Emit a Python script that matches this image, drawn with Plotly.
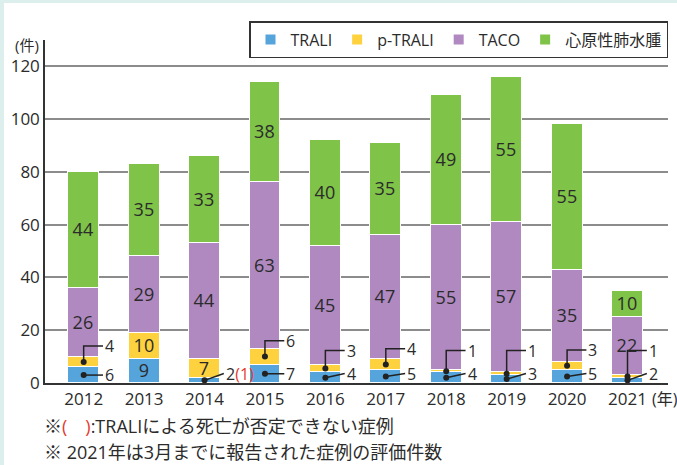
import plotly.graph_objects as go

years = [2012, 2013, 2014, 2015, 2016, 2017, 2018, 2019, 2020, 2021]
trali = [6, 9, 2, 7, 4, 5, 4, 3, 5, 2]
p_trali = [4, 10, 7, 6, 3, 4, 1, 1, 3, 1]
taco = [26, 29, 44, 63, 45, 47, 55, 57, 35, 22]
cardio = [44, 35, 33, 38, 40, 35, 49, 55, 55, 10]
trali_death = [None, None, 1, None, None, None, None, None, None, None]
# whether the small segment value is printed inside the bar (else a callout)
trali_inside = [False, True, False, False, False, False, False, False, False, False]
ptrali_inside = [False, True, True, False, False, False, False, False, False, False]

names = ["TRALI", "p-TRALI", "TACO", "心原性肺水腫"]
colors = ["#55a4dc", "#fdd23e", "#b089c1", "#7fc348"]
ytick_vals = [0, 20, 40, 60, 80, 100, 120]

FONT = "Open Sans, Noto Sans CJK JP"
TXT = "#2b2b2b"
BW = 0.51

fig = go.Figure()
series = [trali, p_trali, taco, cardio]
texts = [
    [str(v) if f else "" for v, f in zip(trali, trali_inside)],
    [str(v) if f else "" for v, f in zip(p_trali, ptrali_inside)],
    [str(v) for v in taco],
    [str(v) for v in cardio],
]
for name, vals, col, tx in zip(names, series, colors, texts):
    fig.add_trace(go.Bar(
        x=years, y=vals, name=name, width=BW,
        marker=dict(color=col, line=dict(color="white", width=1.2)),
        text=tx, textposition="inside", insidetextanchor="middle",
        textangle=0, constraintext="none",
        textfont=dict(family=FONT, size=18, color=TXT),
        hoverinfo="skip",
    ))

# callouts
lx, ly, dx, dy = [], [], [], []
annots = []
DX = 0.32
for i, yr in enumerate(years):
    # TRALI
    if not trali_inside[i]:
        c = trali[i] / 2
        ey = c if c >= 3 else 3.6
        lx += [yr, yr + DX, None]
        ly += [c, ey, None]
        dx.append(yr); dy.append(c)
        label = str(trali[i])
        if trali_death[i] is not None:
            label += "<span style='color:#e8382f'>(%d)</span>" % trali_death[i]
        annots.append(dict(x=yr + DX, y=ey, text=label))
    # p-TRALI
    if not ptrali_inside[i]:
        c = trali[i] + p_trali[i] / 2
        ey = max(c + 6, 12.3)
        lx += [yr, yr, yr + DX, None]
        ly += [c, ey, ey, None]
        dx.append(yr); dy.append(c)
        annots.append(dict(x=yr + DX, y=ey, text=str(p_trali[i])))

fig.add_trace(go.Scatter(x=lx, y=ly, mode="lines", line=dict(color="#222", width=1.5),
                         showlegend=False, hoverinfo="skip"))
fig.add_trace(go.Scatter(x=dx, y=dy, mode="markers", marker=dict(color="#222", size=6),
                         showlegend=False, hoverinfo="skip"))

for a in annots:
    fig.add_annotation(x=a["x"], y=a["y"], xref="x", yref="y", text=a["text"],
                       showarrow=False, xanchor="left", yanchor="middle", xshift=1,
                       borderpad=0,
                       font=dict(family=FONT, size=16, color=TXT))

# axis unit labels
fig.add_annotation(x=-0.029, y=0.985, xref="paper", yref="paper", text="(件)",
                   showarrow=False, xanchor="center", yanchor="middle",
                   font=dict(family=FONT, size=15, color=TXT))
fig.add_annotation(x=0.971, y=-0.046, xref="paper", yref="paper", text="(年)",
                   showarrow=False, xanchor="left", yanchor="middle",
                   font=dict(family=FONT, size=16, color=TXT))
# footnotes
fig.add_annotation(x=-0.005, y=-0.126, xref="paper", yref="paper",
                   text="※<span style='color:#e8382f'>(　)</span>:TRALIによる死亡が否定できない症例",
                   showarrow=False, xanchor="left", yanchor="middle",
                   font=dict(family=FONT, size=18, color=TXT))
fig.add_annotation(x=-0.005, y=-0.202, xref="paper", yref="paper",
                   text="※ 2021年は3月までに報告された症例の評価件数",
                   showarrow=False, xanchor="left", yanchor="middle",
                   font=dict(family=FONT, size=18, color=TXT))

# white panel on mint background
fig.add_shape(type="rect", xref="paper", yref="paper", layer="below",
              x0=-(45 - 4) / 623, x1=1 + 10 / 623, y0=-82 / 343 - 0.01, y1=1 + 37 / 343,
              fillcolor="white", line=dict(width=0))

fig.update_layout(
    width=677, height=465,
    barmode="stack",
    paper_bgcolor="#dcefec", plot_bgcolor="white",
    margin=dict(l=45, r=9, t=40, b=82),
    font=dict(family=FONT, size=16, color=TXT),
    showlegend=True,
    legend=dict(orientation="h", x=1, xanchor="right", y=1.055, yanchor="top",
                traceorder="normal", bordercolor="#333", borderwidth=1.5,
                bgcolor="white", font=dict(family=FONT, size=16, color=TXT),
                itemsizing="constant"),
    bargap=0,
)
fig.update_xaxes(range=[2011.36, 2021.67], tickvals=years, ticktext=[str(y) for y in years],
                 showgrid=False, showline=True, linecolor="#333", linewidth=1.5,
                 ticks="", tickfont=dict(family=FONT, size=17, color=TXT), zeroline=False)
fig.update_yaxes(range=[0, 130], tickvals=ytick_vals, showgrid=True, gridcolor="#8c8c8c",
                 gridwidth=1.5, showline=True, linecolor="#333", linewidth=1.5,
                 ticks="", tickfont=dict(family=FONT, size=17, color=TXT), zeroline=False)

fig.write_html("out.html")
